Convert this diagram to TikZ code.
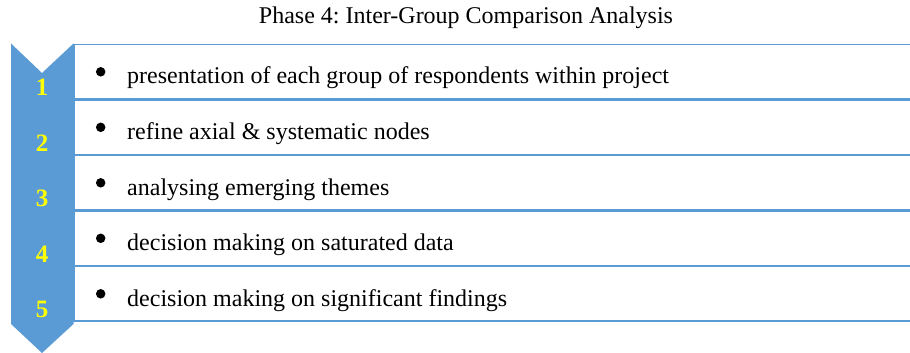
\documentclass[tikz,border=0pt]{standalone}
\usepackage{fontspec}
\setmainfont{Liberation Serif}
\frenchspacing
\definecolor{accentblue}{RGB}{91,155,213}
\definecolor{numyellow}{RGB}{255,255,0}
\begin{document}
\begin{tikzpicture}[x=1pt,y=-1pt,
  itembox/.style={draw=accentblue,line width=1.8pt,fill=white},
  itemtext/.style={anchor=base west,inner sep=0pt,font=\fontsize{24}{28}\selectfont},
  bulletmark/.style={circle,fill=black,inner sep=0pt,minimum size=9.5pt},
  stepnum/.style={anchor=base,inner sep=0pt,text=numyellow,font=\fontsize{25}{28}\selectfont\bfseries}]
\useasboundingbox (0,0) rectangle (910,353);
% title
\node[anchor=base,inner sep=0pt,font=\fontsize{24}{28}\selectfont] (title) at (466,24) {Phase 4: Inter-Group Comparison Analysis};
% list boxes
\foreach \i/\t in {1/{presentation of each group of respondents within project},
                   2/{refine axial \& systematic nodes},
                   3/{analysing emerging themes},
                   4/{decision making on saturated data},
                   5/{decision making on significant findings}}{
  \pgfmathsetmacro{\ytop}{44.5+(\i-1)*55.5}
  \pgfmathsetmacro{\ybot}{\ytop+54.5}
  \pgfmathsetmacro{\ymid}{\ytop+27.3}
  \pgfmathsetmacro{\ytxt}{\ytop+39.5}
  \draw[itembox] (74,\ytop) rectangle (920,\ybot);
  \node[bulletmark] (b\i) at (100.7,\ymid) {};
  \node[itemtext] (t\i) at (127,\ytxt) {\t};
}
% chevron column
\fill[accentblue] (11,43.5) -- (42,73) -- (73.5,43.5) -- (73.5,324) -- (42,353) -- (11,324) -- cycle;
\foreach \i in {1,...,5}{
  \pgfmathsetmacro{\ynum}{95.7+(\i-1)*55.5}
  \node[stepnum] (n\i) at (42,\ynum) {\i};
}
\end{tikzpicture}
\end{document}
